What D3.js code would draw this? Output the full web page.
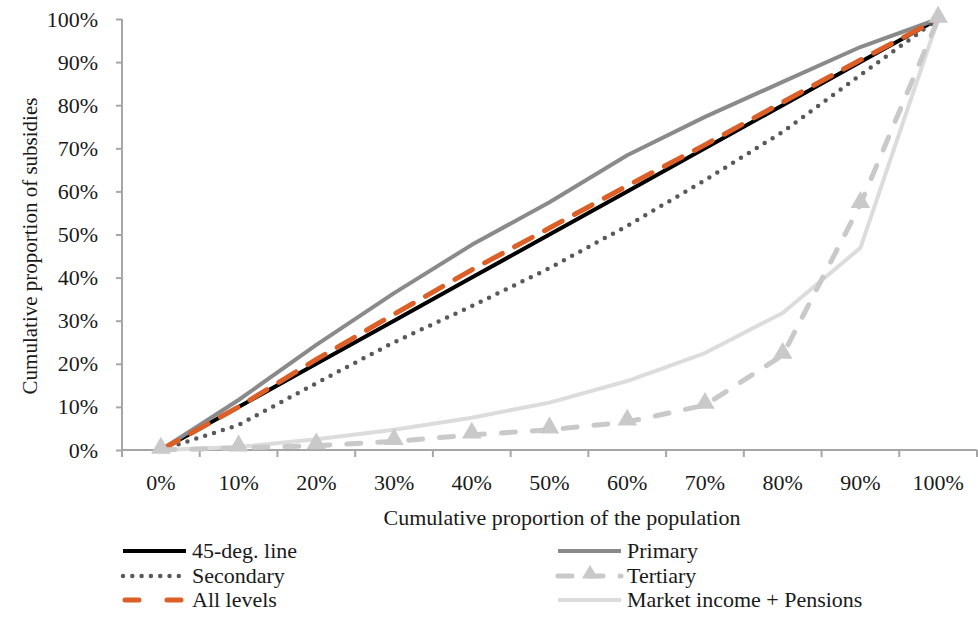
<!DOCTYPE html>
<html><head><meta charset="utf-8">
<script src="https://cdn.jsdelivr.net/npm/d3@7"></script>
<style>body{margin:0;background:#fff}svg{display:block}svg text{font-family:"Times New Roman",Tinos,"Liberation Serif","DejaVu Serif","Noto Serif",serif !important;fill:#1a1a1a}</style>
</head><body><svg id="c" width="978" height="617"></svg>
<script>
const categories = ["0%","10%","20%","30%","40%","50%","60%","70%","80%","90%","100%"];
const yTicks = [0,0.1,0.2,0.3,0.4,0.5,0.6,0.7,0.8,0.9,1.0];
const line45 = [0,0.1,0.2,0.3,0.4,0.5,0.6,0.7,0.8,0.9,1.0];
const primary = [0,0.116,0.244,0.364,0.476,0.575,0.684,0.773,0.854,0.935,1.0];
const secondary = [0,0.058,0.155,0.25,0.334,0.422,0.52,0.626,0.738,0.87,1.0];
const tertiary = [0,0.005,0.01,0.02,0.035,0.047,0.065,0.104,0.22,0.57,1.0];
const allLevels = [0,0.1,0.21,0.315,0.418,0.515,0.613,0.708,0.807,0.905,1.0];
const marketPensions = [0,0.007,0.025,0.047,0.075,0.11,0.16,0.225,0.318,0.469,1.0];

const svg = d3.select("#c");
const L = 122, R = 977, T = 19, B = 450;
const FS = 22;
const x = d3.scaleBand().domain(categories).range([L, R]).paddingInner(0).paddingOuter(0);
const y = d3.scaleLinear().domain([0,1]).range([B, T]);
const cx = c => x(c) + x.bandwidth()/2;
const axisColor = "#a6a6a6";

// Y axis
const ya = svg.append("g").attr("transform", `translate(${L},0)`)
  .call(d3.axisLeft(y).tickValues(yTicks).tickFormat(d3.format(".0%")).tickSize(6).tickPadding(18));
ya.attr("font-family", null);
ya.select(".domain").attr("stroke", axisColor).attr("stroke-width", 2).attr("d", `M0,${T}V${B}`);
ya.selectAll(".tick line").attr("stroke", axisColor).attr("stroke-width", 2);
ya.selectAll(".tick text").attr("font-size", FS).attr("fill", "#1a1a1a");

// X axis
const xa = svg.append("g").attr("transform", `translate(0,${B})`)
  .call(d3.axisBottom(x).tickSize(0));
xa.attr("font-family", null);
xa.select(".domain").attr("stroke", axisColor).attr("stroke-width", 2).attr("d", `M${L},0H${R}`);
xa.selectAll(".tick text").attr("font-size", FS).attr("dy", 0).attr("y", 40).attr("fill", "#1a1a1a");
// category boundary ticks
const bounds = categories.map(c => x(c)).concat([R]);
svg.append("g").selectAll("line").data(bounds).join("line")
  .attr("x1", d => d).attr("x2", d => d).attr("y1", B).attr("y2", B + 7)
  .attr("stroke", axisColor).attr("stroke-width", 2);

// Axis titles
svg.append("text").attr("x", 562).attr("y", 525).attr("text-anchor", "middle").attr("font-size", FS)
  .text("Cumulative proportion of the population");
svg.append("text").attr("transform", `translate(37,246) rotate(-90)`).attr("text-anchor", "middle").attr("font-size", 21)
  .text("Cumulative proportion of subsidies");

const series = [
  {name:"45-deg. line", values: line45, color:"#000000", width:4, dash:null},
  {name:"Primary", values: primary, color:"#8a8a8a", width:4, dash:null},
  {name:"Secondary", values: secondary, color:"#595959", width:4.5, dash:"0,9.3", cap:"round"},
  {name:"Tertiary", values: tertiary, color:"#c9c9ca", width:5, dash:"14,17", cap:"round", marker:true},
  {name:"All levels", values: allLevels, color:"#dc5f27", width:5, dash:"20,14", cap:"round"},
  {name:"Market income + Pensions", values: marketPensions, color:"#dcdcdd", width:4, dash:null}
];

const lineGen = d3.line().x((d,i) => cx(categories[i])).y(d => y(d));
const drawOrder = [0,1,2,5,4,3];
drawOrder.forEach(k => {
  const s = series[k];
  svg.append("path").datum(s.values).attr("d", lineGen)
    .attr("fill", "none").attr("stroke", s.color).attr("stroke-width", s.width)
    .attr("stroke-linejoin", "round")
    .attr("stroke-linecap", s.cap || "butt")
    .attr("stroke-dasharray", s.dash);
  if (s.marker) {
    svg.append("g").selectAll("path").data(s.values).join("path")
      .attr("d", d3.symbol().type(d3.symbolTriangle).size(165))
      .attr("transform", (d,i) => `translate(${cx(categories[i])},${y(d) - 2})`)
      .attr("fill", s.color);
  }
});

// Legend
const legendPos = [
  {x:123, y:551}, {x:558, y:551},
  {x:123, y:576}, {x:558, y:576},
  {x:123, y:600}, {x:558, y:600}
];
series.forEach((s, i) => {
  const p = legendPos[i];
  const g = svg.append("g").attr("transform", `translate(${p.x},${p.y})`);
  g.append("line").attr("x1", 0).attr("x2", 63).attr("y1", 0).attr("y2", 0)
    .attr("stroke", s.color).attr("stroke-width", s.width)
    .attr("stroke-linecap", s.cap || "butt")
    .attr("stroke-dasharray", s.dash ? (s.name === "All levels" ? "14,28" : s.dash) : null)
    .attr("transform", s.name === "All levels" ? "translate(2,0)" : null);
  if (s.marker) {
    g.append("path").attr("d", d3.symbol().type(d3.symbolTriangle).size(110)).attr("transform","translate(32,-2)").attr("fill", s.color);
  }
  g.append("text").attr("x", 69).attr("y", 7).attr("font-size", FS).text(s.name);
});
</script></body></html>
